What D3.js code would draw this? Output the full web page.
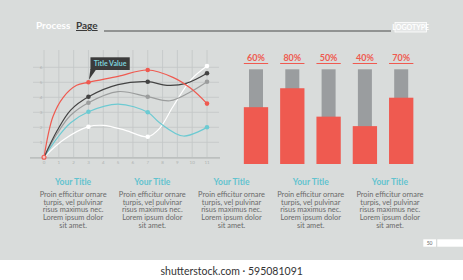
<!DOCTYPE html>
<html lang="en">
<head>
    <meta charset="UTF-8">
    <title>Process Page</title>
    <script src="https://d3js.org/d3.v7.min.js"></script>
    <style>
        body { margin: 0; background: #fff; }
        text { font-family: Lato, "Open Sans", sans-serif; }
    </style>
</head>
<body>
    <svg width="463" height="280"></svg>

    <script>
        // line chart: curve samples, markers at 3, 7, 11
        var xTicks = [0, 1, 2, 3, 4, 5, 6, 7, 8, 9, 10, 11],
            yTicks = [1, 2, 3, 4, 5, 6],
            markerX = [3, 7, 11];

        var redLine   = [[0,0],[0.6,2.7],[1.3,4.0],[2.2,4.8],[3,5.0],[5,5.4],[7,5.82],[8.7,5.33],[9.9,4.6],[11,3.58]],
            darkLine  = [[0,0],[0.9,1.8],[1.8,3.15],[3,4.04],[5,4.85],[7,5.04],[8.3,4.8],[9.6,4.93],[11,5.6]],
            grayLine  = [[0,0],[0.9,1.6],[1.8,2.8],[3,3.64],[5,4.38],[7,4.04],[8.5,3.77],[9.9,4.37],[11,5.04]],
            tealLine  = [[0,0],[0.9,1.3],[1.8,2.3],[3,3.04],[5,3.55],[7,3.0],[7.8,2.3],[9.4,1.42],[11,2.0]],
            whiteLine = [[0,0],[1.3,1.15],[3,2.04],[4,2.13],[5.5,1.8],[7,1.37],[7.8,1.93],[8.7,3.37],[9.9,5.15],[11,6.08]];

        // bar chart
        var barLabels = ["60%", "80%", "50%", "40%", "70%"],
            barValues = [60, 80, 50, 40, 70];

        // text columns
        var colTitles = ["Your Title", "Your Title", "Your Title", "Your Title", "Your Title"],
            bodyLines = ["Proin efficitur ornare", "turpis, vel pulvinar", "risus maximus nec.", "Lorem ipsum dolor", "sit amet."];

        var svg = d3.select("svg");

        var bg = "#d9dcdb", red = "#ef5a50", teal = "#62c3cf";

        svg.append("rect").attr("width", 463).attr("height", 280).attr("fill", bg);
        svg.append("rect").attr("y", 260).attr("width", 463).attr("height", 20).attr("fill", "#fff");

        // header
        svg.append("text").attr("x", 36).attr("y", 29)
            .attr("fill", "#fff").attr("font-size", 10).attr("font-weight", 700).text("Process");
        svg.append("text").attr("x", 76).attr("y", 29)
            .attr("fill", "#3a3a3a").attr("font-size", 10).attr("font-weight", 700)
            .attr("text-decoration", "underline").text("Page");
        svg.append("line").attr("x1", 104).attr("x2", 391).attr("y1", 31).attr("y2", 31)
            .attr("stroke", "#4a4a4a").attr("stroke-width", 1.2);
        svg.append("rect").attr("x", 395).attr("y", 22.5).attr("width", 31.5).attr("height", 9.5)
            .attr("fill", "#e4e6e6").attr("stroke", "#fff").attr("stroke-width", 0.8);
        svg.append("text").attr("x", 410.7).attr("y", 30.3).attr("text-anchor", "middle")
            .attr("fill", "#fff").attr("font-size", 7).attr("font-family", "'Liberation Sans Narrow', 'DejaVu Sans Condensed', sans-serif")
            .attr("font-weight", 700).text("LOGOTYPE");

        // ---- line chart ----
        var x = d3.scaleLinear().domain([0, 11]).range([44, 207]),
            y = d3.scaleLinear().domain([0, 6]).range([157.3, 67.3]);

        var grid = svg.append("g");
        grid.selectAll(".v").data(xTicks).enter().append("line")
            .attr("x1", x).attr("x2", x).attr("y1", 50).attr("y2", 157.3)
            .attr("stroke", "#c3c7c6").attr("stroke-width", 0.8);
        grid.selectAll(".h").data(yTicks).enter().append("line")
            .attr("x1", 33).attr("x2", 219).attr("y1", y).attr("y2", y)
            .attr("stroke", "#c3c7c6").attr("stroke-width", 0.8);
        grid.append("line").attr("x1", 30).attr("x2", 220).attr("y1", y(0) + 0.5).attr("y2", y(0) + 0.5)
            .attr("stroke", "#bcc0bf").attr("stroke-width", 1.8);

        grid.selectAll(".xl").data(xTicks).enter().append("text")
            .attr("x", x).attr("y", 164).attr("text-anchor", "middle")
            .attr("font-size", 4.5).attr("fill", "#aeb2b1").text(function(d) { return d; });
        grid.selectAll(".yl").data(yTicks).enter().append("text")
            .attr("x", 41).attr("y", function(d) { return y(d) + 1.6; }).attr("text-anchor", "middle")
            .attr("font-size", 4.5).attr("fill", "#aeb2b1").text(function(d) { return d; });

        var line = d3.line()
            .x(function(d) { return x(d[0]); })
            .y(function(d) { return y(d[1]); })
            .curve(d3.curveCatmullRom.alpha(0.5));

        var series = [
            { pts: whiteLine, color: "#ffffff" },
            { pts: tealLine,  color: "#6ccad2" },
            { pts: grayLine,  color: "#9b9d9d" },
            { pts: darkLine,  color: "#434343" },
            { pts: redLine,   color: red }
        ];

        series.forEach(function(s) {
            svg.append("path").attr("d", line(s.pts))
                .attr("fill", "none").attr("stroke", s.color).attr("stroke-width", 1.2);
        });
        series.forEach(function(s) {
            var pts = s.pts.filter(function(p) { return markerX.indexOf(p[0]) >= 0; });
            svg.selectAll(null).data(pts).enter().append("circle")
                .attr("cx", function(d) { return x(d[0]); })
                .attr("cy", function(d) { return y(d[1]); })
                .attr("r", 2.3).attr("fill", s.color);
        });
        svg.append("circle").attr("cx", x(0)).attr("cy", y(0)).attr("r", 2)
            .attr("fill", "#f3c4c0").attr("stroke", red).attr("stroke-width", 1.1);

        // callout on the red point at x = 3
        var px = x(3), py = y(5);
        svg.append("path")
            .attr("d", "M" + (px + 2) + "," + 69 + "L" + (px + 8) + "," + 69 + "L" + (px + 0.5) + "," + (py - 2.5) + "Z")
            .attr("fill", "#3b3b3b");
        svg.append("rect").attr("x", px + 2).attr("y", 57.3).attr("width", 39.3).attr("height", 12.7)
            .attr("fill", "#3b3b3b");
        svg.append("text").attr("x", px + 21.6).attr("y", 66.2).attr("text-anchor", "middle")
            .attr("fill", "#7ed3dc").attr("font-size", 7).attr("font-weight", 700).text("Title Value");

        // ---- bar chart ----
        var xb = d3.scaleBand().domain(d3.range(barValues.length)).range([237.85, 419.35])
                .paddingInner(0.33).paddingOuter(0.165),
            yb = d3.scaleLinear().domain([0, 100]).range([164, 69.3]);

        var bars = svg.append("g");
        bars.selectAll(".bg").data(barValues).enter().append("rect")
            .attr("x", function(d, i) { return xb(i) + xb.bandwidth() / 2 - 7; })
            .attr("width", 14)
            .attr("y", yb(100)).attr("height", yb(0) - yb(100))
            .attr("fill", "#9a9d9f");
        bars.selectAll(".fg").data(barValues).enter().append("rect")
            .attr("x", function(d, i) { return xb(i); })
            .attr("width", xb.bandwidth())
            .attr("y", function(d) { return yb(d); })
            .attr("height", function(d) { return yb(0) - yb(d); })
            .attr("fill", red);
        bars.selectAll(".lab").data(barLabels).enter().append("text")
            .attr("x", function(d, i) { return xb(i) + xb.bandwidth() / 2; })
            .attr("y", 60.5).attr("text-anchor", "middle")
            .attr("fill", red).attr("font-size", 9).attr("font-weight", 700).text(function(d) { return d; });
        bars.selectAll(".ul").data(barLabels).enter().append("line")
            .attr("x1", function(d, i) { return xb(i); })
            .attr("x2", function(d, i) { return xb(i) + xb.bandwidth(); })
            .attr("y1", 63.5).attr("y2", 63.5)
            .attr("stroke", red).attr("stroke-width", 1);

        // ---- text columns ----
        var xc = d3.scaleBand().domain(d3.range(colTitles.length)).range([33.5, 429.5]);
        var cols = svg.selectAll(".col").data(colTitles).enter().append("g")
            .attr("transform", function(d, i) { return "translate(" + (xc(i) + xc.bandwidth() / 2) + ",0)"; });
        cols.append("text").attr("y", 185).attr("text-anchor", "middle")
            .attr("fill", teal).attr("font-size", 8.5).attr("font-weight", 700).text(function(d) { return d; });
        cols.selectAll(".b").data(bodyLines).enter().append("text")
            .attr("y", function(d, i) { return 196.8 + i * 7.7; }).attr("text-anchor", "middle")
            .attr("fill", "#6a6a6a").attr("font-size", 7.4).text(function(d) { return d; });

        // page number
        svg.append("rect").attr("x", 423.3).attr("y", 239.3).attr("width", 12.7).attr("height", 7.4).attr("fill", "#fff");
        svg.append("rect").attr("x", 437.3).attr("y", 239.3).attr("width", 26).attr("height", 7.4).attr("fill", "#fff");
        svg.append("text").attr("x", 429.6).attr("y", 245).attr("text-anchor", "middle")
            .attr("fill", "#666").attr("font-size", 5).text("50");

        // watermark
        svg.append("text").attr("x", 231.7).attr("y", 275).attr("text-anchor", "middle")
            .attr("fill", "#333").attr("font-size", 10.5).attr("font-family", "'Open Sans', sans-serif")
            .text("shutterstock.com \u00b7 595081091");
    </script>
</body>
</html>
